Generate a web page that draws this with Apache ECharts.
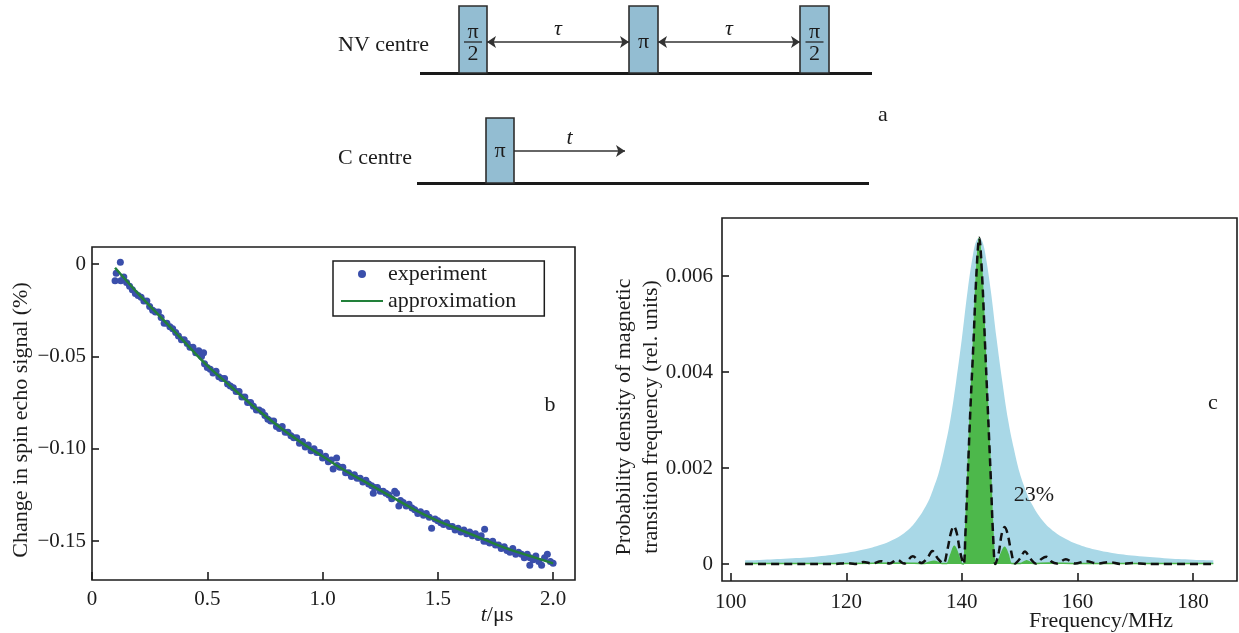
<!DOCTYPE html>
<html>
<head>
<meta charset="utf-8">
<script src="https://cdn.jsdelivr.net/npm/echarts@6/dist/echarts.min.js"></script>
<style>
  html, body { margin: 0; padding: 0; background: #fff; }
  #chart { width: 1239px; height: 633px; }
</style>
</head>
<body>
<div id="chart"></div>
<script>
// ---------- panel a: pulse sequence (schematic time units) ----------
const nvLine = [1.0, 46.2];
const cLine = [0.7, 45.9];
// [start, end, row, label]  row 0 = NV centre, row 1 = C centre
const pulses = [
  [4.9, 7.7, 0, 'π/2'],
  [21.9, 24.8, 0, 'π'],
  [39.0, 41.9, 0, 'π/2'],
  [7.6, 10.4, 1, 'π']
];
// [from, to, row, label, twoHeaded]
const delays = [
  [7.7, 21.9, 0, 'τ', true],
  [24.8, 39.0, 0, 'τ', true],
  [10.4, 21.5, 1, 't', false]
];

// ---------- panel b: spin echo decay ----------
const expPoints = [
  [0.100, -0.009], [0.105, -0.005], [0.123, 0.001], [0.125, -0.009], [0.138, -0.007],
  [0.150, -0.010], [0.163, -0.012], [0.175, -0.014], [0.188, -0.016], [0.200, -0.017],
  [0.213, -0.018], [0.225, -0.020], [0.238, -0.020], [0.250, -0.023], [0.263, -0.025],
  [0.275, -0.026], [0.288, -0.026], [0.300, -0.029], [0.313, -0.032], [0.325, -0.032],
  [0.338, -0.034], [0.350, -0.035], [0.363, -0.037], [0.375, -0.039], [0.388, -0.041],
  [0.400, -0.041], [0.413, -0.043], [0.425, -0.045], [0.438, -0.045], [0.450, -0.048],
  [0.463, -0.047], [0.475, -0.050], [0.484, -0.048], [0.488, -0.054], [0.500, -0.056],
  [0.513, -0.057], [0.525, -0.059], [0.538, -0.058], [0.550, -0.061], [0.563, -0.062],
  [0.575, -0.062], [0.588, -0.065], [0.600, -0.066], [0.613, -0.067], [0.625, -0.069],
  [0.638, -0.069], [0.650, -0.072], [0.663, -0.072], [0.675, -0.075], [0.688, -0.075],
  [0.700, -0.077], [0.713, -0.079], [0.725, -0.079], [0.738, -0.080], [0.750, -0.082],
  [0.763, -0.084], [0.775, -0.085], [0.788, -0.085], [0.800, -0.088], [0.813, -0.089],
  [0.825, -0.088], [0.838, -0.091], [0.850, -0.091], [0.863, -0.093], [0.875, -0.094],
  [0.888, -0.094], [0.900, -0.097], [0.913, -0.096], [0.925, -0.099], [0.938, -0.098],
  [0.950, -0.101], [0.963, -0.100], [0.975, -0.102], [0.988, -0.102], [1.000, -0.105],
  [1.013, -0.104], [1.025, -0.107], [1.038, -0.106], [1.046, -0.111], [1.061, -0.105],
  [1.063, -0.109], [1.075, -0.110], [1.088, -0.110], [1.100, -0.113], [1.113, -0.113],
  [1.125, -0.115], [1.138, -0.114], [1.150, -0.116], [1.163, -0.116], [1.175, -0.118],
  [1.188, -0.117], [1.200, -0.119], [1.213, -0.120], [1.220, -0.124], [1.225, -0.121],
  [1.238, -0.121], [1.250, -0.123], [1.263, -0.123], [1.275, -0.124], [1.288, -0.125],
  [1.300, -0.127], [1.313, -0.123], [1.321, -0.124], [1.331, -0.131], [1.338, -0.128],
  [1.350, -0.129], [1.363, -0.131], [1.375, -0.130], [1.388, -0.132], [1.400, -0.133],
  [1.413, -0.135], [1.425, -0.134], [1.438, -0.136], [1.450, -0.135], [1.463, -0.137],
  [1.473, -0.143], [1.488, -0.138], [1.500, -0.139], [1.513, -0.140], [1.525, -0.141],
  [1.538, -0.140], [1.550, -0.142], [1.563, -0.142], [1.575, -0.144], [1.588, -0.143],
  [1.600, -0.145], [1.613, -0.144], [1.625, -0.146], [1.638, -0.145], [1.650, -0.147],
  [1.663, -0.146], [1.675, -0.148], [1.688, -0.147], [1.700, -0.150], [1.703, -0.1435],
  [1.713, -0.150], [1.725, -0.151], [1.738, -0.150], [1.750, -0.152], [1.763, -0.152],
  [1.775, -0.154], [1.788, -0.153], [1.800, -0.155], [1.813, -0.156], [1.825, -0.154],
  [1.838, -0.157], [1.850, -0.156], [1.863, -0.157], [1.875, -0.159], [1.888, -0.157],
  [1.899, -0.163], [1.900, -0.159], [1.913, -0.160], [1.925, -0.158], [1.938, -0.161],
  [1.950, -0.163], [1.963, -0.159], [1.975, -0.157], [1.988, -0.161], [2.000, -0.162]
];
const fitTime = [0.10, 0.20, 0.30, 0.40, 0.50, 0.60, 0.70, 0.80, 0.90, 1.00,
                 1.10, 1.20, 1.30, 1.40, 1.50, 1.60, 1.70, 1.80, 1.90, 2.00];
const fitSignal = [-0.002, -0.016, -0.029, -0.042, -0.055, -0.066, -0.077, -0.087, -0.096, -0.104,
                   -0.112, -0.119, -0.126, -0.133, -0.139, -0.144, -0.149, -0.154, -0.158, -0.162];
const bTicksX = [0, 0.5, 1.0, 1.5, 2.0];
const bTicksY = [0, -0.05, -0.10, -0.15];

// ---------- panel c: transition frequency distribution ----------
const fullDist = [
  [102.5, 0.000076], [105, 0.000086], [110, 0.000114], [115, 0.000157], [120, 0.00023],
  [123, 0.0003], [126, 0.0004], [128, 0.0005], [130, 0.00064], [132, 0.00088],
  [134, 0.00126], [135, 0.00155], [136, 0.0019], [137, 0.0024], [138, 0.003],
  [139, 0.0038], [140, 0.0047], [141, 0.0057], [142, 0.0065], [142.5, 0.00673],
  [143, 0.0068], [143.5, 0.00673], [144, 0.0065], [145, 0.0057], [146, 0.0047],
  [147, 0.0038], [148, 0.003], [149, 0.0024], [150, 0.0019], [151, 0.00155],
  [152, 0.00127], [154, 0.0009], [156, 0.00067], [158, 0.00052], [160, 0.00041],
  [163, 0.0003], [166, 0.00023], [170, 0.00017], [175, 0.00012], [180, 0.00009],
  [183.5, 0.000076]
];
const selectedDist = [
  [102.5, 0.00001], [120, 0.00001], [130, 0.00002], [133.5, 0.00001], [135.2, 0.00006],
  [136.6, 0.00001], [137.4, 0.00001], [138.1, 0.0002], [138.7, 0.00037], [139.3, 0.00022],
  [139.9, 0.00002], [140.3, 0], [140.6, 0.0006], [141, 0.0018], [141.5, 0.0033],
  [142, 0.0046], [142.5, 0.006], [143, 0.0068], [143.5, 0.006], [144, 0.0046],
  [144.5, 0.0032], [145, 0.0018], [145.4, 0.0006], [145.8, 0], [146.2, 0.00003],
  [146.8, 0.00022], [147.4, 0.00035], [148, 0.0002], [148.6, 0.00001], [150.1, 0.00001],
  [151.2, 0.00007], [152.4, 0.00001], [155, 0.00002], [160, 0.00001], [183.5, 0.00001]
];
const pulseResponse = [
  [102.5, 0], [110, 0], [118, 0], [120, 0.00002], [121.5, 0], [123, 0.00004],
  [124.5, 0.00001], [126, 0.00006], [127.5, 0.00001], [128.8, 0.00009], [130, 0.00001],
  [131.5, 0.00016], [133, 0.00002], [134, 0.00012], [134.9, 0.00027], [135.8, 0.00012],
  [136.8, 0.00001], [137.5, 0.0003], [138.1, 0.00065], [138.6, 0.00079], [139.1, 0.00065],
  [139.7, 0.00025], [140.3, 0], [140.6, 0.0006], [141, 0.0018], [141.5, 0.0033],
  [142, 0.0046], [142.5, 0.006], [143, 0.0068], [143.5, 0.006], [144, 0.0046],
  [144.5, 0.0032], [145, 0.0018], [145.4, 0.0006], [145.8, 0], [146.4, 0.00025],
  [146.9, 0.00063], [147.4, 0.00077], [147.9, 0.00063], [148.5, 0.00028], [149.2, 0.00001],
  [150.1, 0.00012], [150.9, 0.00026], [151.8, 0.00012], [152.8, 0.00001], [153.7, 0.0001],
  [154.6, 0.00015], [155.5, 0.00005], [156.4, 0.00001], [158, 0.0001], [159.6, 0.00001],
  [161.5, 0.00006], [163.5, 0.00001], [165.5, 0.00004], [167.5, 0], [169.5, 0.00002],
  [172, 0], [183.5, 0]
];
const cTicksX = [100, 120, 140, 160, 180];
const cTicksY = [0, 0.002, 0.004, 0.006];

// ---------- styling ----------
const SERIF = '"Liberation Serif", "DejaVu Serif", serif';
const INK = '#1c1c1c';
const ROW_TOP = [0.6, 11.8];
const ROW_BASE = [7.3, 18.3];
const ROW_MID = [4.2, 15.1];

const myChart = echarts.init(document.getElementById('chart'), null, { renderer: 'canvas' });

function frameAxisLabel(values, formatter, margin) {
  return { customValues: values, formatter: formatter, margin: margin,
           fontFamily: SERIF, fontSize: 21, color: INK };
}
function frameAxisTick(values, length) {
  return { inside: true, length: length, customValues: values, lineStyle: { color: INK, width: 1.6 } };
}
const minus = v => (v < 0 ? '\u2212' : '');

function renderPulse(params, api) {
  const item = pulses[params.dataIndex];
  const row = item[2];
  const p0 = api.coord([item[0], ROW_TOP[row]]);
  const p1 = api.coord([item[1], ROW_BASE[row]]);
  const mid = api.coord([(item[0] + item[1]) / 2, ROW_MID[row]]);
  const children = [{
    type: 'rect',
    shape: { x: p0[0], y: p0[1], width: p1[0] - p0[0], height: p1[1] - p0[1] },
    style: { fill: '#93bdd2', stroke: '#2e2e2e', lineWidth: 1.6 }
  }];
  const font = { fontFamily: SERIF, fontSize: 22, fill: INK, align: 'center', verticalAlign: 'middle' };
  if (item[3] === 'π/2') {
    children.push(
      { type: 'text', x: mid[0], y: mid[1] - 10, style: Object.assign({ text: 'π' }, font) },
      { type: 'line', shape: { x1: mid[0] - 9, y1: mid[1], x2: mid[0] + 9, y2: mid[1] },
        style: { stroke: INK, lineWidth: 1.2 } },
      { type: 'text', x: mid[0], y: mid[1] + 12, style: Object.assign({ text: '2' }, font) }
    );
  } else {
    children.push({ type: 'text', x: mid[0], y: mid[1], style: Object.assign({ text: 'π' }, font) });
  }
  return { type: 'group', children: children };
}

function label(x, y, text, extra) {
  return Object.assign({ type: 'text', x: x, y: y, z: 100,
    style: { text: text, font: '22px ' + SERIF, fill: INK, align: 'center', verticalAlign: 'middle' } }, extra || {});
}

const option = {
  animation: false,
  backgroundColor: '#fff',
  textStyle: { fontFamily: SERIF },
  grid: [
    { left: 410, top: 0, width: 470, height: 200, show: false },
    { left: 92, top: 247, width: 483, height: 333, show: true,
      borderColor: INK, borderWidth: 1.6, backgroundColor: 'transparent' },
    { left: 722, top: 218, width: 515, height: 363, show: true,
      borderColor: INK, borderWidth: 1.6, backgroundColor: 'transparent' }
  ],
  xAxis: [
    { gridIndex: 0, type: 'value', min: 0, max: 47, show: false },
    { gridIndex: 1, type: 'value', min: 0, max: 2.095, position: 'bottom',
      axisLine: { show: false, onZero: false }, splitLine: { show: false },
      axisTick: frameAxisTick(bTicksX, 8),
      axisLabel: frameAxisLabel(bTicksX, v => (v === 0 ? '0' : v.toFixed(1)), 9) },
    { gridIndex: 2, type: 'value', min: 98.5, max: 187.6, position: 'bottom',
      axisLine: { show: false, onZero: false }, splitLine: { show: false },
      axisTick: frameAxisTick(cTicksX, 8),
      axisLabel: frameAxisLabel(cTicksX, v => String(v), 11) }
  ],
  yAxis: [
    { gridIndex: 0, type: 'value', min: 0, max: 20, inverse: true, show: false },
    { gridIndex: 1, type: 'value', min: -0.171, max: 0.0092, position: 'left',
      axisLine: { show: false, onZero: false }, splitLine: { show: false },
      axisTick: frameAxisTick(bTicksY, 7),
      axisLabel: frameAxisLabel(bTicksY, v => (v === 0 ? '0' : minus(v) + Math.abs(v).toFixed(2)), 6) },
    { gridIndex: 2, type: 'value', min: -0.000354, max: 0.00721, position: 'left',
      axisLine: { show: false, onZero: false }, splitLine: { show: false },
      axisTick: frameAxisTick(cTicksY, 7),
      axisLabel: frameAxisLabel(cTicksY, v => (v === 0 ? '0' : v.toFixed(3)), 9) }
  ],
  legend: {
    data: [
      { name: 'experiment' },
      { name: 'approximation', itemStyle: { opacity: 0 } }
    ],
    orient: 'vertical',
    left: 333, top: 261,
    padding: [1, 28, 3, 7],
    itemGap: 3,
    itemWidth: 42, itemHeight: 8,
    borderColor: INK, borderWidth: 1.5,
    textStyle: { fontFamily: SERIF, fontSize: 22, color: INK, lineHeight: 24 }
  },
  series: [
    // panel a
    { type: 'lines', coordinateSystem: 'cartesian2d', xAxisIndex: 0, yAxisIndex: 0, silent: true,
      symbol: 'none', lineStyle: { color: '#1a1a1a', width: 3, opacity: 1 },
      data: [
        { coords: [[nvLine[0], ROW_BASE[0]], [nvLine[1], ROW_BASE[0]]] },
        { coords: [[cLine[0], ROW_BASE[1]], [cLine[1], ROW_BASE[1]]] }
      ] },
    { type: 'lines', coordinateSystem: 'cartesian2d', xAxisIndex: 0, yAxisIndex: 0, silent: true,
      symbolSize: 9, lineStyle: { color: '#333', width: 1.6, opacity: 1 },
      label: { show: true, position: 'middle', distance: 2, formatter: p => p.name,
               fontFamily: SERIF, fontSize: 22, fontStyle: 'italic', color: INK },
      data: delays.map(d => ({
        name: d[3],
        symbol: d[4] ? ['arrow', 'arrow'] : ['none', 'arrow'],
        coords: [[d[0], ROW_MID[d[2]]], [d[1], ROW_MID[d[2]]]]
      })) },
    { type: 'custom', coordinateSystem: 'cartesian2d', xAxisIndex: 0, yAxisIndex: 0, silent: true,
      renderItem: renderPulse, data: pulses.map(p => [p[0], p[1], p[2]]), z: 5 },

    // panel b
    { name: 'experiment', type: 'scatter', xAxisIndex: 1, yAxisIndex: 1,
      symbolSize: 7, itemStyle: { color: '#3a4fab', opacity: 1 }, data: expPoints, z: 2 },
    { name: 'approximation', type: 'line', xAxisIndex: 1, yAxisIndex: 1,
      symbol: 'none', showSymbol: false, smooth: 0.4, lineStyle: { color: '#22803a', width: 2.5 },
      itemStyle: { color: '#22803a' },
      data: fitTime.map((t, i) => [t, fitSignal[i]]), z: 3 },

    // panel c
    { type: 'line', xAxisIndex: 2, yAxisIndex: 2, symbol: 'none', smooth: 0.4,
      lineStyle: { width: 0 }, areaStyle: { color: '#a9d8e7', opacity: 1 },
      data: fullDist, z: 1 },
    { type: 'line', xAxisIndex: 2, yAxisIndex: 2, symbol: 'none', smooth: 0.3,
      lineStyle: { color: '#4db84b', width: 1.5 }, areaStyle: { color: '#4db84b', opacity: 1 },
      data: selectedDist, z: 2 },
    { type: 'line', xAxisIndex: 2, yAxisIndex: 2, symbol: 'none', smooth: 0.35,
      lineStyle: { color: '#111', width: 2.5, type: [8, 5] },
      data: pulseResponse, z: 3 }
  ],
  graphic: [
    { type: 'text', left: 338, top: 34, z: 100, style: { text: 'NV centre', font: '22px ' + SERIF, fill: INK } },
    { type: 'text', left: 338, top: 147, z: 100, style: { text: 'C centre', font: '22px ' + SERIF, fill: INK } },
    label(883, 115, 'a'),
    label(550, 405, 'b'),
    label(1213, 403, 'c'),
    label(1034, 495, '23%'),
    label(21, 420, 'Change in spin echo signal (%)', { rotation: Math.PI / 2 }),
    { type: 'text', x: 638, y: 417, z: 100, rotation: Math.PI / 2,
      style: { text: 'Probability density of magnetic\ntransition frequency (rel. units)', font: '22px ' + SERIF,
               lineHeight: 27, fill: INK, align: 'center', verticalAlign: 'middle' } },
    { type: 'text', x: 497, y: 615, z: 100,
      style: { text: '{i|t}/μs', font: '22px ' + SERIF, fill: INK, align: 'center', verticalAlign: 'middle',
               rich: { i: { fontFamily: SERIF, fontSize: 22, fontStyle: 'italic', fill: INK } } } },
    label(1101, 621, 'Frequency/MHz')
  ]
};

myChart.setOption(option);
</script>
</body>
</html>
